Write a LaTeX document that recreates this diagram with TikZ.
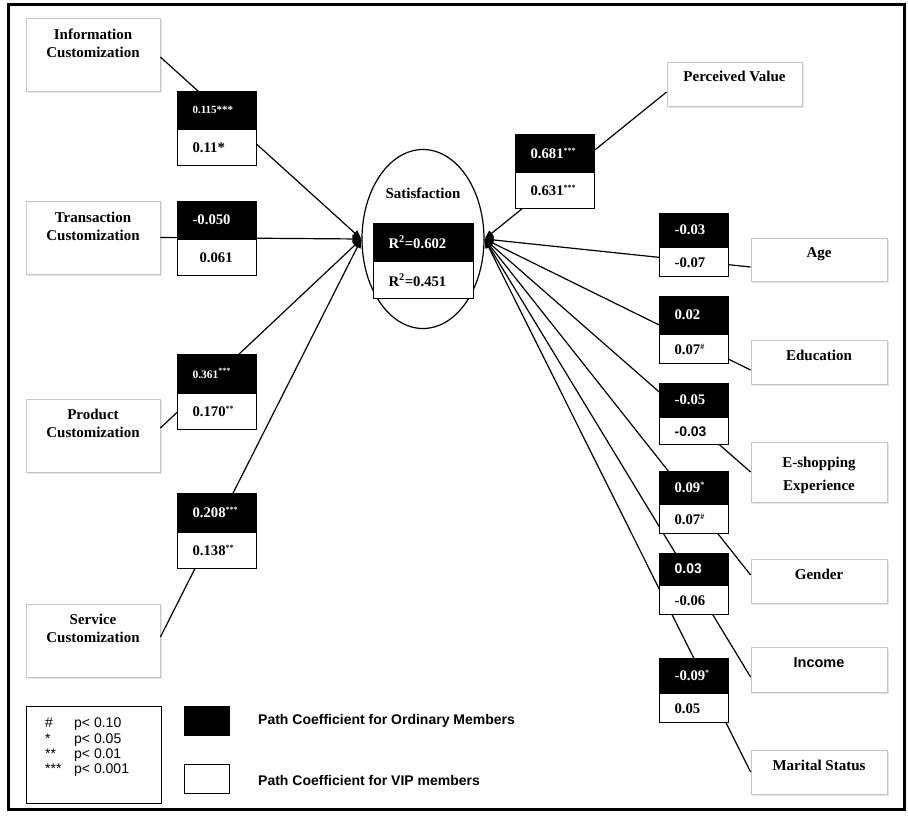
\documentclass[tikz,border=0pt]{standalone}
\usepackage{fontspec}
\setmainfont{Liberation Serif}
\newfontfamily\arial{Liberation Sans}
\usetikzlibrary{arrows.meta,shadows,shapes.geometric}
\newcommand\sps[1]{\textsuperscript{\fontsize{8}{8}\selectfont #1}}
\tikzset{
  lbox/.style={draw=gray!45, line width=0.8pt, fill=white, inner sep=0pt,
    drop shadow={shadow xshift=2pt, shadow yshift=-2pt, fill=gray!20, opacity=1}},
  ltxt/.style={font=\bfseries\fontsize{15}{18}\selectfont, align=center, inner sep=0pt},
  stxt/.style={font=\bfseries\fontsize{15}{18}\selectfont, inner sep=0pt, text height=10pt, text depth=3pt},
  bk/.style={draw, fill=black, text=white, line width=1.2pt, inner xsep=15pt, inner ysep=0pt,
    align=left, anchor=north west, font=\bfseries\fontsize{14.7}{16}\selectfont},
  wh/.style={bk, fill=white, text=black},
  lw/.style={text width=49pt},
  rw/.style={text width=39pt},
  conn/.style={line width=1.2pt},
  arr/.style={conn, -{Triangle[length=9pt,width=7pt]}},
  legtxt/.style={font=\arial\bfseries\fontsize{14}{16}\selectfont, anchor=west, inner sep=0pt},
}
\begin{document}
\begin{tikzpicture}[x=1pt,y=-1pt]
\useasboundingbox (0,0) rectangle (908,815);
\draw[line width=3pt] (8,4) rectangle (904,809);

% satisfaction
\node[draw, ellipse, line width=1.2pt, minimum width=122pt, minimum height=179pt, inner sep=0pt] (sat) at (423,239) {};
\node[stxt] (satt) at (423,195) {Satisfaction};

% left boxes
\node[lbox, minimum width=134pt, minimum height=73pt] (info) at (93,54.5) {};
\node[lbox, minimum width=134pt, minimum height=73pt] (trans) at (93,237.5) {};
\node[lbox, minimum width=134pt, minimum height=73pt] (prod) at (93,435.5) {};
\node[lbox, minimum width=134pt, minimum height=73pt] (serv) at (93,640.5) {};
\node[ltxt] (infot) at (93,43) {Information\\Customization};
\node[ltxt] (transt) at (93,226) {Transaction\\Customization};
\node[ltxt] (prodt) at (93,423.5) {Product\\Customization};
\node[ltxt] (servt) at (93,628.5) {Service\\Customization};

% right boxes
\node[lbox, minimum width=135pt, minimum height=44pt] (pv) at (734.5,84) {};
\node[lbox, minimum width=136pt, minimum height=43pt] (age) at (819,259.5) {};
\node[lbox, minimum width=136pt, minimum height=44pt] (edu) at (819,362) {};
\node[lbox, minimum width=136pt, minimum height=60pt] (esh) at (819,472) {};
\node[lbox, minimum width=136pt, minimum height=44pt] (gen) at (819,581) {};
\node[lbox, minimum width=136pt, minimum height=45pt] (inc) at (819,669.5) {};
\node[lbox, minimum width=136pt, minimum height=44pt] (mar) at (819,772) {};
\node[stxt] (pvt) at (734.5,78) {Perceived Value};
\node[stxt] (aget) at (819,254) {Age};
\node[stxt] (edut) at (819,357) {Education};
\node[ltxt, font=\bfseries\fontsize{15}{23}\selectfont] (esht) at (819,475) {E-shopping\\Experience};
\node[stxt] (gent) at (819,576) {Gender};
\node[stxt, font=\arial\bfseries\fontsize{14.5}{18}\selectfont] (inct) at (819,664) {Income};
\node[stxt] (mart) at (819,767) {Marital Status};

% connectors
\draw[arr] ([yshift=-2.5pt]info.east) -- (sat.west);
\draw[arr] (trans.east) -- (sat.west);
\draw[arr] ([yshift=7.5pt]prod.east) -- (sat.west);
\draw[arr] ([yshift=3.5pt]serv.east) -- (sat.west);
\draw[arr] ([yshift=-8pt]pv.west) -- (sat.east);
\draw[arr] ([yshift=-7.5pt]age.west) -- (sat.east);
\draw[arr] ([yshift=-8pt]edu.west) -- (sat.east);
\draw[arr] (esh.west) -- (sat.east);
\draw[arr] ([yshift=6pt]gen.west) -- (sat.east);
\draw[arr] ([yshift=-7.5pt]inc.west) -- (sat.east);
\draw[arr] (mar.west) -- (sat.east);

% R2 boxes
\node[bk, text width=70pt, minimum height=37pt] (r2a) at (373,223) {R\textsuperscript{2}=0.602};
\node[wh, text width=70pt, minimum height=37pt] (r2b) at (r2a.south west) {R\textsuperscript{2}=0.451};

% left coefficient boxes
\node[bk, lw, minimum height=37pt, font=\bfseries\fontsize{11}{12}\selectfont] (c1a) at (177,91) {0.115***};
\node[wh, lw, minimum height=36pt] (c1b) at (c1a.south west) {0.11*};
\node[bk, lw, minimum height=37pt] (c2a) at (177,201) {-0.050};
\node[wh, lw, minimum height=36pt] (c2b) at (c2a.south west) {\hspace*{7pt}0.061};
\node[bk, lw, minimum height=38pt, font=\bfseries\fontsize{11.5}{12}\selectfont] (c3a) at (177,354) {0.361\sps{***}};
\node[wh, lw, minimum height=36pt] (c3b) at (c3a.south west) {0.170\sps{**}};
\node[bk, lw, minimum height=38pt] (c4a) at (177,493) {0.208\sps{***}};
\node[wh, lw, minimum height=36pt] (c4b) at (c4a.south west) {0.138\sps{**}};

% right coefficient boxes
\node[bk, lw, minimum height=37pt] (c5a) at (515,134) {0.681\sps{***}};
\node[wh, lw, minimum height=36pt] (c5b) at (c5a.south west) {0.631\sps{***}};
\node[bk, rw, minimum height=33pt] (c6a) at (659,213) {-0.03};
\node[wh, rw, minimum height=29pt] (c6b) at (c6a.south west) {-0.07};
\node[bk, rw, minimum height=37pt] (c7a) at (659,296) {0.02};
\node[wh, rw, minimum height=29pt] (c7b) at (c7a.south west) {0.07\sps{\#}};
\node[bk, rw, minimum height=33pt] (c8a) at (659,383) {-0.05};
\node[wh, rw, minimum height=27pt, font=\arial\bfseries\fontsize{14}{16}\selectfont] (c8b) at (c8a.south west) {-0.03};
\node[bk, rw, minimum height=32pt] (c9a) at (659,471) {0.09\sps{*}};
\node[wh, rw, minimum height=29pt] (c9b) at (c9a.south west) {0.07\sps{\#}};
\node[bk, rw, minimum height=31pt, font=\arial\bfseries\fontsize{14}{16}\selectfont] (c10a) at (659,553) {0.03};
\node[wh, rw, minimum height=29pt] (c10b) at (c10a.south west) {-0.06};
\node[bk, rw, minimum height=34pt] (c11a) at (659,658) {-0.09\sps{*}};
\node[wh, rw, minimum height=29pt] (c11b) at (c11a.south west) {0.05};

% legend
\node[draw, line width=1.2pt, anchor=north west, minimum width=135pt, minimum height=97pt, inner sep=0pt] (leg) at (26,706) {};
\node[anchor=north west, inner sep=0pt, font=\arial\fontsize{14}{15.3}\selectfont] (legp) at (45,717)
  {\begin{tabular}{@{}p{29pt}@{}l@{}}\# & p< 0.10\\ {*} & p< 0.05\\ {**} & p< 0.01\\ {***} & p< 0.001\end{tabular}};
\node[draw, fill=black, line width=1.2pt, anchor=north west, minimum width=45pt, minimum height=29pt, inner sep=0pt] (legb) at (184,706) {};
\node[draw, fill=white, line width=1.2pt, anchor=north west, minimum width=45pt, minimum height=29pt, inner sep=0pt] (legw) at (184,764) {};
\node[legtxt] (legbt) at (258,721) {Path Coefficient for Ordinary Members};
\node[legtxt] (legwt) at (258,780) {Path Coefficient for VIP members};
\end{tikzpicture}
\end{document}
